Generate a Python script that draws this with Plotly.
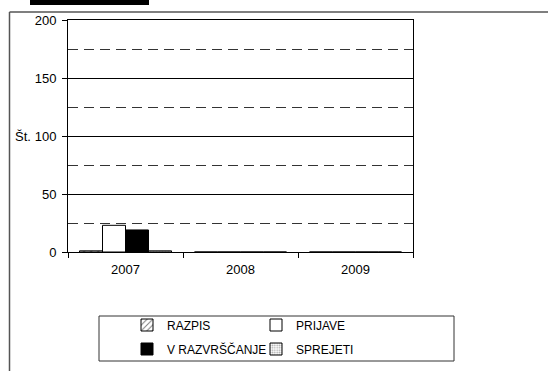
import plotly.graph_objects as go

# Data
years = ["2007", "2008", "2009"]
razpis = [1, 0, 0]
prijave = [23, 0, 0]
v_razvrscanje = [19, 0, 0]
sprejeti = [1, 0, 0]
y_ticks = [0, 50, 100, 150, 200]

W, H = 548, 371
L, R, T, B = 68, 135, 20, 119
PW, PH = W - L - R, H - T - B


def px(x):
    return (x - L) / PW


def py(y):
    return (H - B - y) / PH


FONT = "Liberation Sans, Arial, sans-serif"
line = dict(color="black", width=1)

fig = go.Figure()
fig.add_bar(name="RAZPIS", x=years, y=razpis, legend="legend",
            marker=dict(color="white", line=line,
                        pattern=dict(shape="/", fgcolor="black", bgcolor="white", size=5, solidity=0.25)))
fig.add_bar(name="PRIJAVE", x=years, y=prijave, legend="legend",
            marker=dict(color="white", line=line))
fig.add_bar(name="V RAZVRŠČANJE", x=years, y=v_razvrscanje, legend="legend2",
            marker=dict(color="black", line=line))
fig.add_bar(name="SPREJETI", x=years, y=sprejeti, legend="legend2",
            marker=dict(color="white", line=line,
                        pattern=dict(shape=".", fgcolor="#555", bgcolor="white", size=3, solidity=0.4)))

shapes = [
    # outer frame (left and top edges)
    dict(type="line", xref="paper", yref="paper", x0=px(9.5), x1=px(9.5), y0=py(12), y1=py(371),
         line=dict(color="#555", width=1.5)),
    dict(type="line", xref="paper", yref="paper", x0=px(9.5), x1=px(548), y0=py(12), y1=py(12),
         line=dict(color="#555", width=1.5)),
    # black band at the top
    dict(type="rect", xref="paper", yref="paper", x0=px(30), x1=px(149), y0=py(0), y1=py(5),
         fillcolor="black", line=dict(width=0)),
    # legend box
    dict(type="rect", xref="paper", yref="paper", x0=px(99), x1=px(454), y0=py(316), y1=py(361),
         fillcolor="rgba(0,0,0,0)", line=dict(color="#333", width=1)),
]

legend_common = dict(orientation="h", xanchor="left", yanchor="middle",
                     entrywidth=84, entrywidthmode="pixels", traceorder="normal",
                     bgcolor="rgba(0,0,0,0)", borderwidth=0,
                     font=dict(family=FONT, size=12, color="black"))

fig.update_layout(
    width=W, height=H,
    margin=dict(l=L, r=R, t=T, b=B, pad=0, autoexpand=False),
    paper_bgcolor="white", plot_bgcolor="white",
    font=dict(family=FONT, size=13, color="black"),
    barmode="group", bargap=0.2, bargroupgap=0,
    showlegend=True,
    legend=dict(x=px(127), y=py(325), **legend_common),
    legend2=dict(x=px(127), y=py(349), **legend_common),
    shapes=shapes,
    annotations=[dict(text="Št.", xref="paper", yref="y", x=px(13), y=100,
                      xanchor="left", yanchor="middle", showarrow=False,
                      font=dict(family=FONT, size=13, color="black"))],
)

fig.update_xaxes(
    type="category", showline=True, linecolor="black", linewidth=1, mirror=True,
    ticks="outside", ticklen=5, tickcolor="black", tickson="boundaries", ticklabelstandoff=5,
    showgrid=False, tickfont=dict(family=FONT, size=13, color="black"),
)
fig.update_yaxes(
    range=[0, 200], tickvals=y_ticks, showline=True, linecolor="black", linewidth=1, mirror=True,
    ticks="outside", ticklen=5, tickcolor="black", ticklabelstandoff=3,
    showgrid=True, gridcolor="black", gridwidth=1,
    minor=dict(dtick=25, tick0=0, showgrid=True, gridcolor="#333", griddash="10px,6px", gridwidth=1, ticks=""),
    zeroline=False, tickfont=dict(family=FONT, size=13, color="black"),
)

fig.write_html("out.html")
